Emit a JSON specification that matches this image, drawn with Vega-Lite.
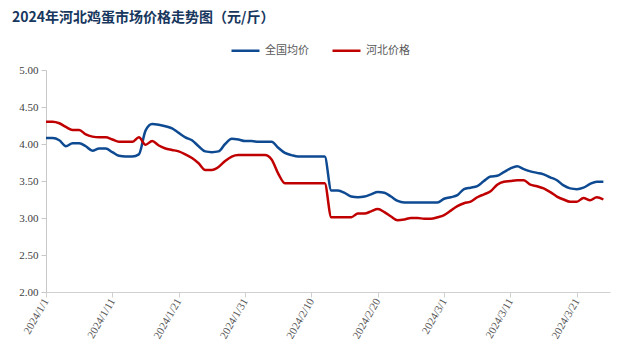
{
  "$schema": "https://vega.github.io/schema/vega-lite/v6.json",
  "autosize": "none",
  "width": 564,
  "height": 222,
  "padding": {"left": 46, "top": 70, "right": 15, "bottom": 65},
  "background": "white",
  "title": {
    "text": "2024年河北鸡蛋市场价格走势图（元/斤）",
    "anchor": "start",
    "frame": "group",
    "dx": -34,
    "offset": 10,
    "font": "Noto Sans CJK SC",
    "fontSize": 14,
    "fontWeight": "bold",
    "color": "#17375E"
  },
  "data": {
    "values": [
      {"d":"2024-01-01","全国均价":4.08,"河北价格":4.30},
      {"d":"2024-01-02","全国均价":4.08,"河北价格":4.30},
      {"d":"2024-01-03","全国均价":4.05,"河北价格":4.28},
      {"d":"2024-01-04","全国均价":3.97,"河北价格":4.23},
      {"d":"2024-01-05","全国均价":4.01,"河北价格":4.19},
      {"d":"2024-01-06","全国均价":4.01,"河北价格":4.19},
      {"d":"2024-01-07","全国均价":3.97,"河北价格":4.13},
      {"d":"2024-01-08","全国均价":3.91,"河北价格":4.10},
      {"d":"2024-01-09","全国均价":3.94,"河北价格":4.09},
      {"d":"2024-01-10","全国均价":3.94,"河北价格":4.09},
      {"d":"2024-01-11","全国均价":3.89,"河北价格":4.06},
      {"d":"2024-01-12","全国均价":3.84,"河北价格":4.03},
      {"d":"2024-01-13","全国均价":3.83,"河北价格":4.03},
      {"d":"2024-01-14","全国均价":3.83,"河北价格":4.03},
      {"d":"2024-01-15","全国均价":3.86,"河北价格":4.09},
      {"d":"2024-01-16","全国均价":4.18,"河北价格":3.99},
      {"d":"2024-01-17","全国均价":4.27,"河北价格":4.04},
      {"d":"2024-01-18","全国均价":4.26,"河北价格":3.98},
      {"d":"2024-01-19","全国均价":4.24,"河北价格":3.94},
      {"d":"2024-01-20","全国均价":4.21,"河北价格":3.92},
      {"d":"2024-01-21","全国均价":4.15,"河北价格":3.90},
      {"d":"2024-01-22","全国均价":4.09,"河北价格":3.86},
      {"d":"2024-01-23","全国均价":4.05,"河北价格":3.81},
      {"d":"2024-01-24","全国均价":3.97,"河北价格":3.74},
      {"d":"2024-01-25","全国均价":3.90,"河北价格":3.65},
      {"d":"2024-01-26","全国均价":3.89,"河北价格":3.65},
      {"d":"2024-01-27","全国均价":3.90,"河北价格":3.69},
      {"d":"2024-01-28","全国均价":4.00,"河北价格":3.77},
      {"d":"2024-01-29","全国均价":4.07,"河北价格":3.83},
      {"d":"2024-01-30","全国均价":4.06,"河北价格":3.85},
      {"d":"2024-01-31","全国均价":4.04,"河北价格":3.85},
      {"d":"2024-02-01","全国均价":4.04,"河北价格":3.85},
      {"d":"2024-02-02","全国均价":4.03,"河北价格":3.85},
      {"d":"2024-02-03","全国均价":4.03,"河北价格":3.85},
      {"d":"2024-02-04","全国均价":4.03,"河北价格":3.79},
      {"d":"2024-02-05","全国均价":3.95,"河北价格":3.60},
      {"d":"2024-02-06","全国均价":3.88,"河北价格":3.47},
      {"d":"2024-02-07","全国均价":3.85,"河北价格":3.47},
      {"d":"2024-02-08","全国均价":3.83,"河北价格":3.47},
      {"d":"2024-02-09","全国均价":3.83,"河北价格":3.47},
      {"d":"2024-02-10","全国均价":3.83,"河北价格":3.47},
      {"d":"2024-02-11","全国均价":3.83,"河北价格":3.47},
      {"d":"2024-02-12","全国均价":3.83,"河北价格":3.47},
      {"d":"2024-02-13","全国均价":3.37,"河北价格":3.01},
      {"d":"2024-02-14","全国均价":3.37,"河北价格":3.01},
      {"d":"2024-02-15","全国均价":3.34,"河北价格":3.01},
      {"d":"2024-02-16","全国均价":3.29,"河北价格":3.01},
      {"d":"2024-02-17","全国均价":3.28,"河北价格":3.06},
      {"d":"2024-02-18","全国均价":3.29,"河北价格":3.06},
      {"d":"2024-02-19","全国均价":3.32,"河北价格":3.09},
      {"d":"2024-02-20","全国均价":3.35,"河北价格":3.12},
      {"d":"2024-02-21","全国均价":3.34,"河北价格":3.08},
      {"d":"2024-02-22","全国均价":3.29,"河北价格":3.02},
      {"d":"2024-02-23","全国均价":3.23,"河北价格":2.97},
      {"d":"2024-02-24","全国均价":3.21,"河北价格":2.98},
      {"d":"2024-02-25","全国均价":3.21,"河北价格":3.00},
      {"d":"2024-02-26","全国均价":3.21,"河北价格":3.00},
      {"d":"2024-02-27","全国均价":3.21,"河北价格":2.99},
      {"d":"2024-02-28","全国均价":3.21,"河北价格":2.99},
      {"d":"2024-02-29","全国均价":3.21,"河北价格":3.01},
      {"d":"2024-03-01","全国均价":3.26,"河北价格":3.04},
      {"d":"2024-03-02","全国均价":3.28,"河北价格":3.10},
      {"d":"2024-03-03","全国均价":3.31,"河北价格":3.16},
      {"d":"2024-03-04","全国均价":3.39,"河北价格":3.20},
      {"d":"2024-03-05","全国均价":3.41,"河北价格":3.22},
      {"d":"2024-03-06","全国均价":3.43,"河北价格":3.28},
      {"d":"2024-03-07","全国均价":3.50,"河北价格":3.32},
      {"d":"2024-03-08","全国均价":3.56,"河北价格":3.36},
      {"d":"2024-03-09","全国均价":3.57,"河北价格":3.45},
      {"d":"2024-03-10","全国均价":3.62,"河北价格":3.49},
      {"d":"2024-03-11","全国均价":3.67,"河北价格":3.50},
      {"d":"2024-03-12","全国均价":3.70,"河北价格":3.51},
      {"d":"2024-03-13","全国均价":3.66,"河北价格":3.51},
      {"d":"2024-03-14","全国均价":3.63,"河北价格":3.45},
      {"d":"2024-03-15","全国均价":3.61,"河北价格":3.43},
      {"d":"2024-03-16","全国均价":3.59,"河北价格":3.40},
      {"d":"2024-03-17","全国均价":3.55,"河北价格":3.35},
      {"d":"2024-03-18","全国均价":3.51,"河北价格":3.29},
      {"d":"2024-03-19","全国均价":3.44,"河北价格":3.25},
      {"d":"2024-03-20","全国均价":3.40,"河北价格":3.22},
      {"d":"2024-03-21","全国均价":3.39,"河北价格":3.22},
      {"d":"2024-03-22","全国均价":3.41,"河北价格":3.27},
      {"d":"2024-03-23","全国均价":3.46,"河北价格":3.24},
      {"d":"2024-03-24","全国均价":3.49,"河北价格":3.28},
      {"d":"2024-03-25","全国均价":3.49,"河北价格":3.25}
    ]
  },
  "transform": [
    {"fold": ["全国均价", "河北价格"], "as": ["series", "price"]}
  ],
  "mark": {"type": "line", "interpolate": "monotone", "strokeWidth": 2.5, "clip": true},
  "encoding": {
    "x": {
      "field": "d",
      "type": "temporal",
      "scale": {
        "type": "utc",
        "domain": [
          {"year": 2024, "month": 1, "date": 1, "utc": true},
          {"year": 2024, "month": 3, "date": 26, "utc": true}
        ]
      },
      "axis": {
        "title": null,
        "grid": false,
        "values": [
          {"year": 2024, "month": 1, "date": 1, "utc": true},
          {"year": 2024, "month": 1, "date": 11, "utc": true},
          {"year": 2024, "month": 1, "date": 21, "utc": true},
          {"year": 2024, "month": 1, "date": 31, "utc": true},
          {"year": 2024, "month": 2, "date": 10, "utc": true},
          {"year": 2024, "month": 2, "date": 20, "utc": true},
          {"year": 2024, "month": 3, "date": 1, "utc": true},
          {"year": 2024, "month": 3, "date": 11, "utc": true},
          {"year": 2024, "month": 3, "date": 21, "utc": true}
        ],
        "format": "%Y/%-m/%-d",
        "labelAngle": -60,
        "labelFont": "Liberation Serif",
        "labelFontSize": 11,
        "labelColor": "#595959",
        "labelPadding": 2,
        "labelFlush": false,
        "labelOverlap": false,
        "domainColor": "#d0d0d0",
        "tickColor": "#d0d0d0",
        "tickSize": 5
      }
    },
    "y": {
      "field": "price",
      "type": "quantitative",
      "scale": {"domain": [2, 5], "nice": false, "zero": false},
      "axis": {
        "title": null,
        "grid": false,
        "values": [2, 2.5, 3, 3.5, 4, 4.5, 5],
        "format": ".2f",
        "labelFont": "Liberation Serif",
        "labelFontSize": 11,
        "labelColor": "#404040",
        "labelPadding": 3,
        "domainColor": "#c8c8c8",
        "tickColor": "#c8c8c8",
        "tickSize": 5
      }
    },
    "color": {
      "field": "series",
      "type": "nominal",
      "scale": {"domain": ["全国均价", "河北价格"], "range": ["#0D4A92", "#C00000"]},
      "legend": {
        "title": null,
        "orient": "none",
        "legendX": 184,
        "legendY": -35,
        "direction": "horizontal",
        "symbolType": "stroke",
        "symbolSize": 784,
        "symbolStrokeWidth": 2.5,
        "labelFont": "Noto Sans CJK SC",
        "labelFontSize": 11,
        "labelColor": "#595959",
        "columnPadding": 18,
        "labelOffset": 4
      }
    }
  },
  "config": {"view": {"stroke": null}}
}
